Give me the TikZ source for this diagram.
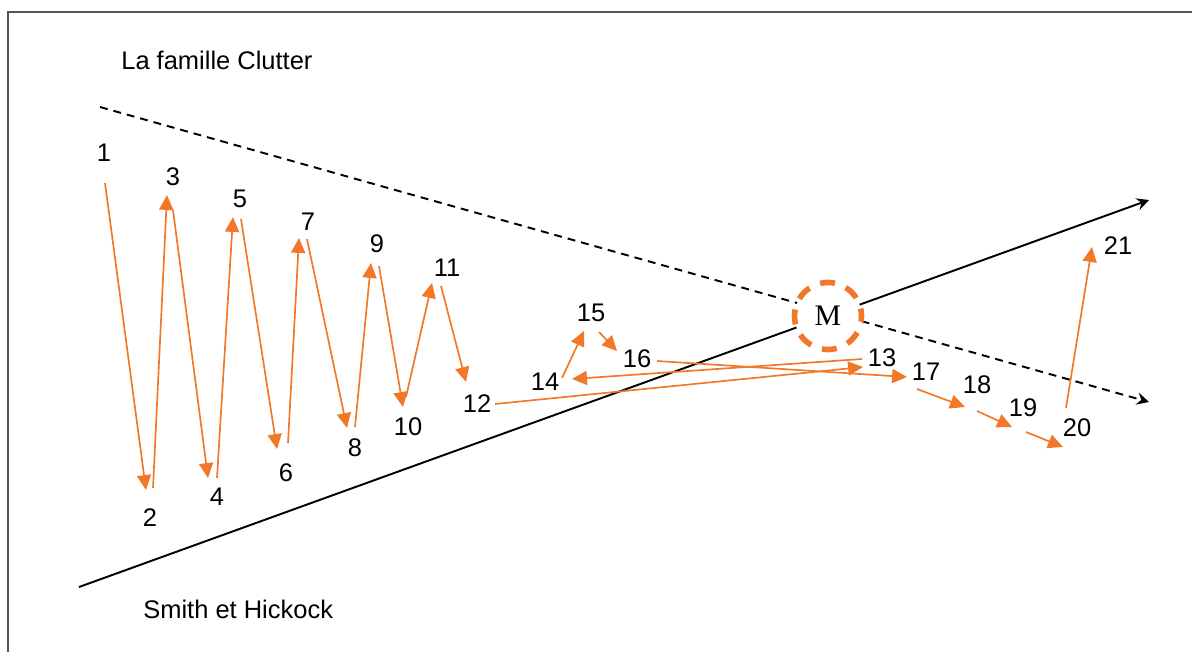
\documentclass[tikz,border=0pt]{standalone}
\usepackage{fontspec}
\setmainfont{Liberation Sans}
\newfontfamily\romanM{Liberation Serif}
\usetikzlibrary{arrows.meta}
\definecolor{zigorange}{RGB}{240,120,40}
\definecolor{framegray}{RGB}{85,85,85}

\begin{document}
\begin{tikzpicture}[x=0.02cm,y=-0.02cm,
    every node/.style={font=\fontsize{14.5}{16}\selectfont,inner sep=0pt},
    zig/.style={zigorange,line width=0.95pt,-{Triangle[length=8.5pt,width=8pt]}},
    axe/.style={black,line width=1.1pt,-{Stealth[length=7pt,width=7pt,inset=2.5pt]}}]
  \useasboundingbox (0,0) rectangle (1192,652);
  \draw[framegray,line width=1.2pt] (8,652) -- (8,12) -- (1192,12);
  \node[anchor=base west] (clutter) at (121,70) {La famille Clutter};
  \node[anchor=base west] (smith) at (143,618) {Smith et Hickock};
  \coordinate (clutterA) at (100,107);
  \coordinate (clutterB) at (1149,402);
  \coordinate (smithA) at (79,587);
  \coordinate (smithB) at (1149,200);
  \draw[axe,dash pattern=on 4.5pt off 3.4pt] (clutterA) -- (clutterB);
  \draw[axe] (smithA) -- (smithB);
  \node[circle,minimum size=1.34cm,fill=white,draw=zigorange,line width=3.2pt,
        dash pattern=on 8.5pt off 6.6pt,dash phase=4.25pt,
        font=\romanM\fontsize{17}{19}\selectfont] (meet) at (828,316) {M};
  \foreach \k/\x/\y in {1/104/153,2/150/518,3/173/177,4/217/497,5/240/199,
      6/286/473,7/308/222,8/355/448,9/377/244,10/408/427,11/447/268,
      12/477/404,13/882/358,14/545/382,15/591/313,16/637/359,17/926/372,
      18/977/385,19/1023/408,20/1077/428,21/1118/246}
    \node (n\k) at (\x,\y) {\k};
  \foreach \k/\x/\y in {1/105/183,2/153/488,3/173/210,4/217/478,5/241/219,
      6/288/443,7/307/239,8/355/427,9/379/266,10/406/397,11/441/286,
      12/495/404,13/862/359,14/562/378,15/599/332,16/657/361,17/917/389,
      18/977/411,19/1026/432,20/1066/408}
    \coordinate (o\k) at (\x,\y);
  \foreach \k/\x/\y in {2/146/490,3/167/195,4/208/478,5/233/217,6/277/449,
      7/299/238,8/347/428,9/371/263,10/403/407,11/432/283,12/466/382,
      13/863/367,14/572/379,15/584/331,16/617/351,17/907/377,18/965/407,
      19/1012/427,20/1063/447,21/1092/247}
    \coordinate (i\k) at (\x,\y);
  \foreach \k [evaluate=\k as \m using int(\k+1)] in {1,...,20}
    \draw[zig] (o\k) -- (i\m);
\end{tikzpicture}
\end{document}
